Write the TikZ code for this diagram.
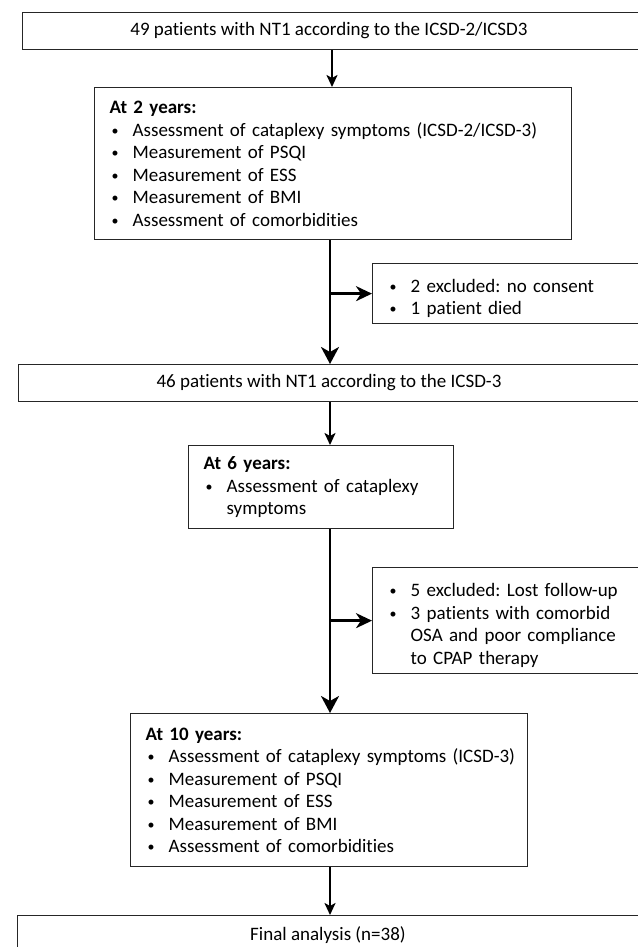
\documentclass[tikz,border=0pt]{standalone}
\usepackage{fontspec}
\setmainfont{Carlito}[Ligatures=NoCommon]
\usetikzlibrary{arrows.meta}
\frenchspacing

% one bullet line with hanging indent
\newcommand{\bul}[1]{\par\noindent\makebox[23pt][l]{\hspace{2pt}\raisebox{1pt}{\fontsize{14}{14}\selectfont•}}%
  \parbox[t]{\dimexpr\linewidth-13pt\relax}{\raggedright#1}}

\tikzset{
  flowbox/.style={draw=black!85,line width=1.3pt,rectangle,anchor=north west,
    inner xsep=15pt,inner ysep=0pt,align=left,
    font=\fontsize{19}{22.5}\selectfont},
  widebox/.style={draw=black!85,line width=1.3pt,rectangle,anchor=north west,
    inner sep=0pt,minimum width=720pt},
  flowtxt/.style={inner sep=0pt,font=\fontsize{19}{22.5}\selectfont},
  bigarrow/.style={line width=2.6pt,-{Stealth[length=17pt,width=18pt,inset=5pt]}},
  smallarrow/.style={line width=2.4pt,-{Stealth[length=12pt,width=11pt,inset=3pt]}},
  sidearrow/.style={line width=2.6pt,-{Stealth[length=16pt,width=15pt,inset=5pt]}}
}

\begin{document}
\begin{tikzpicture}[x=1pt,y=-1pt]
  \useasboundingbox (0,0) rectangle (637,947);
  \coordinate (spine) at (330,0);

  % wide boxes
  \node[widebox,minimum height=37pt] (start) at (22,12) {};
  \node[flowtxt] (starttxt) at (329,30.5) {49 patients with NT1 according to the ICSD-2/ICSD3};

  \node[widebox,minimum height=37pt] (mid) at (18,364) {};
  \node[flowtxt] (midtxt) at (329,382.5) {46 patients with NT1 according to the ICSD-3};

  \node[widebox,minimum height=60pt] (final) at (17,915) {};
  \node[flowtxt] (finaltxt) at (328,935) {Final analysis (n=38)};

  % follow-up boxes
  \node[flowbox,text width=447pt,minimum height=152pt] (year2) at (94,87) {%
    \textbf{At 2 years:}
    \bul{Assessment of cataplexy symptoms (ICSD-2/ICSD-3)}
    \bul{Measurement of PSQI}
    \bul{Measurement of ESS}
    \bul{Measurement of BMI}
    \bul{Assessment of comorbidities}};

  \node[flowbox,text width=235pt,minimum height=83pt] (year6) at (188,445) {%
    \textbf{At 6 years:}
    \bul{Assessment of cataplexy\newline symptoms}};

  \node[flowbox,text width=367pt,minimum height=153pt] (year10) at (130,713) {%
    \textbf{At 10 years:}
    \bul{Assessment of cataplexy symptoms (ICSD-3)}
    \bul{Measurement of PSQI}
    \bul{Measurement of ESS}
    \bul{Measurement of BMI}
    \bul{Assessment of comorbidities}};

  % exclusion boxes
  \node[flowbox,text width=300pt,minimum height=60pt] (excl1) at (372,263) {%
    \bul{2 excluded: no consent}
    \bul{1 patient died}};

  \node[flowbox,text width=300pt,minimum height=106pt] (excl2) at (372,567) {%
    \bul{5 excluded: Lost follow-up}
    \bul{3 patients with comorbid\newline OSA and poor compliance\newline to CPAP therapy}};

  % connectors
  \draw[smallarrow] (start.south -| 332,0) -- (year2.north -| 332,0);
  \draw[bigarrow] (year2.south -| spine) -- (mid.north -| spine);
  \draw[sidearrow] (excl1.west -| spine) -- (excl1.west);
  \draw[smallarrow] (mid.south -| spine) -- (year6.north -| spine);
  \draw[bigarrow] (year6.south -| spine) -- (year10.north -| spine);
  \draw[sidearrow] (excl2.west -| spine) -- (excl2.west);
  \draw[smallarrow] (year10.south -| spine) -- (final.north -| spine);
\end{tikzpicture}
\end{document}
